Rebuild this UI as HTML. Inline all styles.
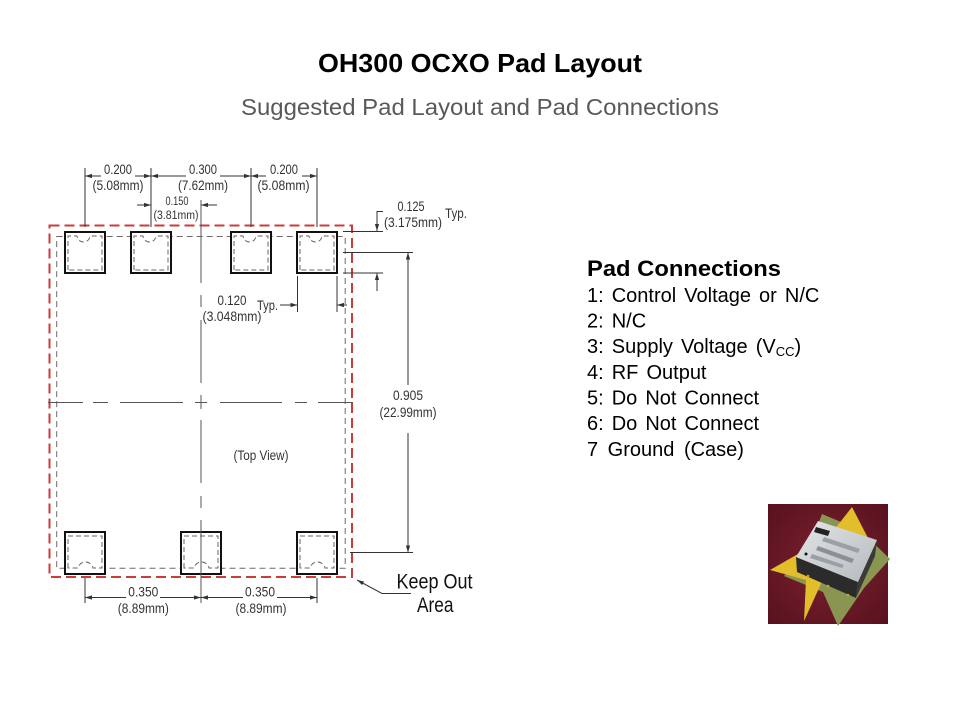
<!DOCTYPE html>
<html><head><meta charset="utf-8"><style>
html,body{margin:0;padding:0;background:#fff;}
svg{display:block;}
</style></head><body>
<svg width="960" height="720" viewBox="0 0 960 720" xmlns="http://www.w3.org/2000/svg" font-family="'Liberation Sans', Arial, sans-serif">
<defs>
<marker id="ar" viewBox="0 0 10 6" refX="10" refY="3" markerWidth="7" markerHeight="5" orient="auto" markerUnits="userSpaceOnUse"><path d="M0,0L10,3L0,6z" fill="#333"/></marker>
<radialGradient id="bg" cx="50%" cy="50%" r="70%"><stop offset="0" stop-color="#7e2030"/><stop offset="1" stop-color="#56121d"/></radialGradient>
<linearGradient id="chip" x1="0" y1="0" x2="1" y2="1"><stop offset="0" stop-color="#e4e6e8"/><stop offset="1" stop-color="#b4b9bd"/></linearGradient>
</defs>
<rect width="960" height="720" fill="#fff"/>

<!-- Titles -->
<text x="318" y="72" font-size="26" font-weight="bold" fill="#000" textLength="324" lengthAdjust="spacingAndGlyphs">OH300 OCXO Pad Layout</text>
<text x="241" y="115" font-size="23" fill="#595959" textLength="478" lengthAdjust="spacingAndGlyphs">Suggested Pad Layout and Pad Connections</text>

<!-- Pad connections -->
<text x="587" y="276" font-size="22" font-weight="bold" fill="#000" textLength="194" lengthAdjust="spacingAndGlyphs">Pad Connections</text>
<g font-size="20" fill="#000" word-spacing="2.5">
<text x="587" y="302">1: Control Voltage or N/C</text>
<text x="587" y="327.5">2: N/C</text>
<text x="587" y="353">3: Supply Voltage (V<tspan font-size="13" dy="3">CC</tspan><tspan dy="-3">)</tspan></text>
<text x="587" y="379">4: RF Output</text>
<text x="587" y="404.5">5: Do Not Connect</text>
<text x="587" y="430">6: Do Not Connect</text>
<text x="587" y="456" word-spacing="4">7 Ground (Case)</text>
</g>

<!-- Drawing: gray inner dashed outline -->
<rect x="56.7" y="236.5" width="288.5" height="331.8" fill="none" stroke="#6a6a6a" stroke-width="1" stroke-dasharray="6 4"/>
<!-- Red keep-out -->
<rect x="49.5" y="225.5" width="302.5" height="351.5" fill="none" stroke="#cc3b3b" stroke-width="2" stroke-dasharray="10 5"/>

<!-- Pads -->
<g fill="#fff" stroke="#111" stroke-width="2">
<rect x="65" y="232" width="40" height="41"/>
<rect x="131" y="232" width="40" height="41"/>
<rect x="231" y="232" width="40" height="41"/>
<rect x="297" y="232" width="40" height="41"/>
<rect x="65" y="532" width="40" height="42"/>
<rect x="181" y="532" width="40" height="42"/>
<rect x="297" y="532" width="40" height="42"/>
</g>
<g fill="none" stroke="#666" stroke-width="1" stroke-dasharray="5 3">
<path d="M68,270 V236 H77 C78,244 89,244 90,236 H102 V270 Z"/>
<path d="M134,270 V236 H143 C144,244 155,244 156,236 H168 V270 Z"/>
<path d="M234,270 V236 H243 C244,244 255,244 256,236 H268 V270 Z"/>
<path d="M300,270 V236 H309 C310,244 321,244 322,236 H334 V270 Z"/>
<path d="M68,568 V536 H102 V568 H93 C91,560 80,560 78,568 Z"/>
<path d="M184,568 V536 H218 V568 H209 C207,560 196,560 194,568 Z"/>
<path d="M300,568 V536 H334 V568 H325 C323,560 312,560 310,568 Z"/>
</g>

<!-- Center lines -->
<g stroke="#555" stroke-width="1" fill="none">
<path d="M201,200V283 M201,295V307 M201,320V383 M201,395V409 M201,420V483 M201,496V508 M201,520V603"/>
<path d="M48,402.5H83 M93,402.5H108 M120,402.5H183 M195,402.5H207 M220,402.5H282 M295,402.5H307 M318,402.5H353"/>
</g>

<!-- Dimension lines -->
<g stroke="#333" stroke-width="1" fill="none">
<path d="M85,168V227 M151,168V227 M251,168V227 M317,168V227"/>
<line x1="101" y1="176" x2="85" y2="176" marker-end="url(#ar)"/>
<line x1="135" y1="176" x2="151" y2="176" marker-end="url(#ar)"/>
<line x1="186" y1="176" x2="151" y2="176" marker-end="url(#ar)"/>
<line x1="220" y1="176" x2="251" y2="176" marker-end="url(#ar)"/>
<line x1="266" y1="176" x2="251" y2="176" marker-end="url(#ar)"/>
<line x1="302" y1="176" x2="317" y2="176" marker-end="url(#ar)"/>
<line x1="137" y1="205" x2="151" y2="205" marker-end="url(#ar)"/>
<line x1="217" y1="205" x2="201" y2="205" marker-end="url(#ar)"/>
<path d="M343,231.5H383 M343,273H383"/>
<polyline points="383,211.5 377,211.5 377,231" marker-end="url(#ar)"/>
<line x1="377" y1="291" x2="377" y2="273" marker-end="url(#ar)"/>
<path d="M343,252.5H413 M350,552.5H413"/>
<line x1="408" y1="385" x2="408" y2="252.5" marker-end="url(#ar)"/>
<line x1="408" y1="433" x2="408" y2="552.5" marker-end="url(#ar)"/>
<path d="M297.5,276V312 M337,276V312"/>
<line x1="280" y1="305" x2="297.5" y2="305" marker-end="url(#ar)"/>
<line x1="347" y1="305" x2="337" y2="305" marker-end="url(#ar)"/>
<path d="M85,578V603 M317,578V603"/>
<line x1="126" y1="597.5" x2="85" y2="597.5" marker-end="url(#ar)"/>
<line x1="160" y1="597.5" x2="201" y2="597.5" marker-end="url(#ar)"/>
<line x1="243" y1="597.5" x2="201" y2="597.5" marker-end="url(#ar)"/>
<line x1="277" y1="597.5" x2="317" y2="597.5" marker-end="url(#ar)"/>
<polyline points="411,593.5 382,593.5 357,580" marker-end="url(#ar)"/>
</g>

<!-- Dimension texts -->
<g fill="#333" font-size="14" text-anchor="middle">
<text x="118" y="174" textLength="28" lengthAdjust="spacingAndGlyphs">0.200</text>
<text x="118" y="190" textLength="51" lengthAdjust="spacingAndGlyphs">(5.08mm)</text>
<text x="203" y="174" textLength="28" lengthAdjust="spacingAndGlyphs">0.300</text>
<text x="203" y="190" textLength="50" lengthAdjust="spacingAndGlyphs">(7.62mm)</text>
<text x="284" y="174" textLength="28" lengthAdjust="spacingAndGlyphs">0.200</text>
<text x="283.5" y="190" textLength="52" lengthAdjust="spacingAndGlyphs">(5.08mm)</text>
<text x="177" y="205" font-size="11.5" textLength="23" lengthAdjust="spacingAndGlyphs">0.150</text>
<text x="176" y="219" font-size="11.5" textLength="45" lengthAdjust="spacingAndGlyphs">(3.81mm)</text>
<text x="411" y="211" textLength="27" lengthAdjust="spacingAndGlyphs">0.125</text>
<text x="413" y="227" textLength="58" lengthAdjust="spacingAndGlyphs">(3.175mm)</text>
<text x="456" y="218" textLength="22" lengthAdjust="spacingAndGlyphs">Typ.</text>
<text x="232" y="305" textLength="29" lengthAdjust="spacingAndGlyphs">0.120</text>
<text x="232" y="321" textLength="59" lengthAdjust="spacingAndGlyphs">(3.048mm)</text>
<text x="267.5" y="310" textLength="21" lengthAdjust="spacingAndGlyphs">Typ.</text>
<text x="408" y="400" textLength="30" lengthAdjust="spacingAndGlyphs">0.905</text>
<text x="408" y="417" textLength="57" lengthAdjust="spacingAndGlyphs">(22.99mm)</text>
<text x="261" y="460" textLength="55" lengthAdjust="spacingAndGlyphs">(Top View)</text>
<text x="143.3" y="596.5" textLength="30" lengthAdjust="spacingAndGlyphs">0.350</text>
<text x="143.3" y="613" textLength="51" lengthAdjust="spacingAndGlyphs">(8.89mm)</text>
<text x="260" y="596.5" textLength="30" lengthAdjust="spacingAndGlyphs">0.350</text>
<text x="261" y="613" textLength="51" lengthAdjust="spacingAndGlyphs">(8.89mm)</text>
</g>
<g fill="#111" font-size="21">
<text x="396.5" y="588.5" textLength="76" lengthAdjust="spacingAndGlyphs">Keep Out</text>
<text x="417" y="612" textLength="36.5" lengthAdjust="spacingAndGlyphs">Area</text>
</g>

<!-- Product photo -->
<g transform="translate(768,504)">
<rect width="120" height="120" fill="url(#bg)"/>
<polygon points="54,10 92,26 122,55 96,84 70,122 55,88 16,72 42,42" fill="#8a9552"/>
<polygon points="84,3 100,34 62,60 36,117 38,76 2,66 44,42 66,26" fill="#e2bf2a"/>
<polygon points="28,53 90,78 88,94 29,68" fill="#2b2b2b"/>
<polygon points="90,78 109,36 107,52 88,94" fill="#3a3a3a"/>
<polygon points="50,17 109,36 90,78 28,53" fill="url(#chip)"/>
<polygon points="48,23 62,27 60,32 46,28" fill="#222"/>
<polygon points="56,33 92,45 90,49 54,37" fill="#9aa0a5"/>
<polygon points="50,42 86,55 84,59 48,46" fill="#8b9096"/>
<polygon points="44,50 76,61 74,64 42,54" fill="#9aa0a5"/>
<circle cx="38" cy="50" r="1.5" fill="#111"/>
<circle cx="40" cy="72" r="1.3" fill="#c9a830"/>
<circle cx="60" cy="82" r="1.3" fill="#c9a830"/>
<circle cx="80" cy="91" r="1.3" fill="#c9a830"/>
</g>
</svg>
</body></html>
